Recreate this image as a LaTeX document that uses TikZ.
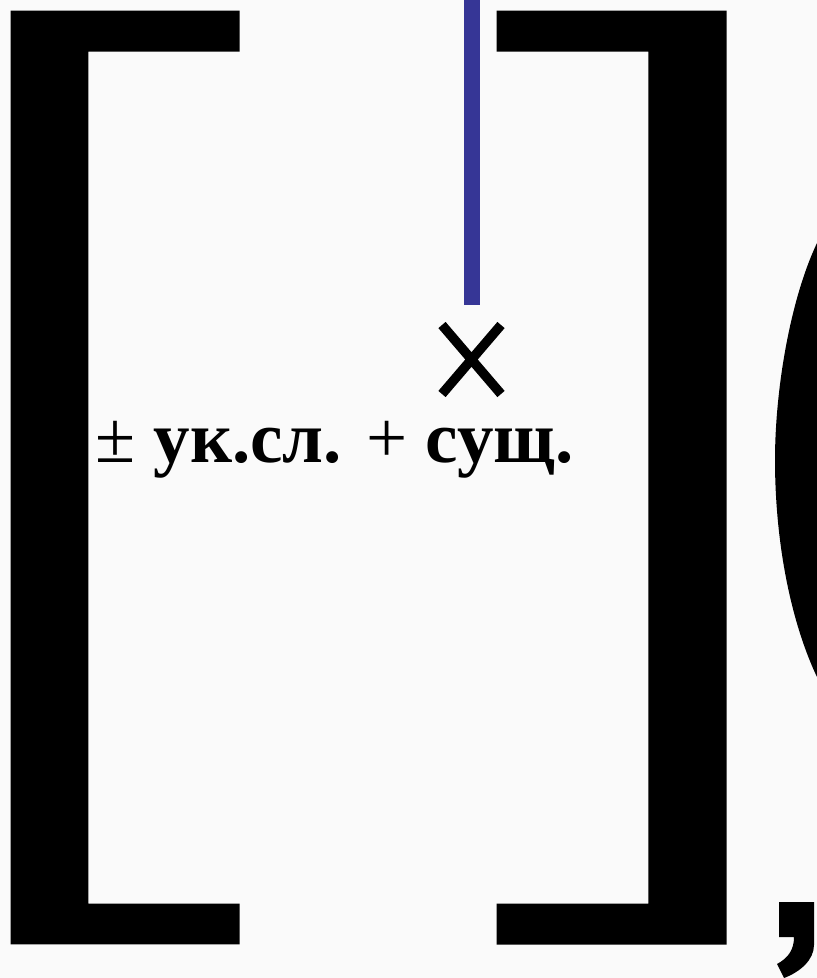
\documentclass[tikz,border=0pt]{standalone}
\usepackage{fontspec}
\setmainfont{Liberation Serif}
\usetikzlibrary{positioning}
\definecolor{pagebg}{RGB}{250,250,250}
\definecolor{stemblue}{RGB}{54,54,150}

\begin{document}
\begin{tikzpicture}[
  x=1pt, y=-1pt,
  bracket/.style={fill=black},
  stem/.style={draw=stemblue, line width=16pt},
  crossbar/.style={draw=black, line width=9.5pt},
  lbl/.style={anchor=base west, inner sep=0pt,
              font=\fontsize{73}{78}\selectfont}
]
\fill[pagebg] (0,0) rectangle (817,978);
\useasboundingbox (0,0) rectangle (817,978);

\fill[bracket] (10.5,10.5) -- (239.5,10.5) -- (239.5,51.5) -- (88.3,51.5)
  -- (88.3,903.5) -- (239.5,903.5) -- (239.5,944.3) -- (10.5,944.3) -- cycle;
\fill[bracket] (496.7,10.5) -- (726.5,10.5) -- (726.5,944.5) -- (496.7,944.5)
  -- (496.7,903.5) -- (648.3,903.5) -- (648.3,51.5) -- (496.7,51.5) -- cycle;
\fill[bracket] (817,243) .. controls (790,300) and (775,390) .. (775,460)
  .. controls (775,540) and (790,620) .. (817,677) -- cycle;
\fill[bracket] (779,902) -- (814,902) -- (814,945)
  .. controls (814,960) and (800,972) .. (784,978) -- (777,964)
  .. controls (788,958) and (794,950) .. (794,937) -- (779,937) -- cycle;

\coordinate (stemtop) at (472,0);
\coordinate (stemfoot) at (472,305);
\coordinate (xmark) at (471.5,359.5);
\draw[stem] (stemtop) -- (stemfoot);
\draw[crossbar] (xmark) ++(-29.5,-34.5) -- ++(59,69)
  (xmark) ++(29.5,-34.5) -- ++(-59,69);

\node[lbl] (rule) at (95,462) {± \textbf{ук.сл.} + \textbf{сущ.}};
\end{tikzpicture}
\end{document}
